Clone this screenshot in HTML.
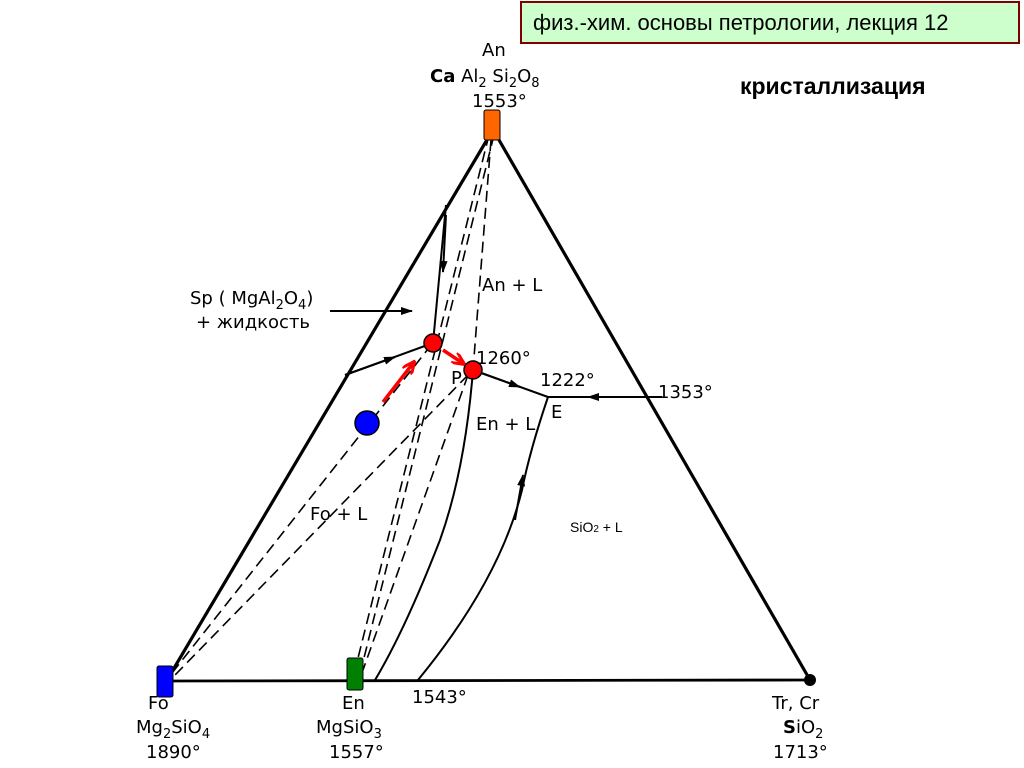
<!DOCTYPE html>
<html><head><meta charset="utf-8"><style>
html,body{margin:0;padding:0;background:#fff;width:1024px;height:768px;overflow:hidden}
svg{display:block}
text{font-family:"DejaVu Sans","Liberation Sans",sans-serif;fill:#000}
</style></head><body>
<svg width="1024" height="768" viewBox="0 0 1024 768" xmlns="http://www.w3.org/2000/svg">
<defs>
<marker id="ab" markerWidth="12" markerHeight="8" refX="11" refY="4" orient="auto" markerUnits="userSpaceOnUse"><path d="M0,0 L12,4 L0,8 Z" fill="#000"/></marker>
<marker id="ar" markerWidth="14" markerHeight="12" refX="12" refY="6" orient="auto" markerUnits="userSpaceOnUse"><path d="M0,0 L13,6 L0,12" fill="none" stroke="#f00" stroke-width="3"/></marker>
</defs>
<rect x="521" y="2" width="498" height="41" fill="#ccffcc" stroke="#800000" stroke-width="2"/>
<text x="533" y="30" font-size="22" style="font-family:'Liberation Sans',sans-serif">физ.-хим. основы петрологии, лекция 12</text>
<text x="740" y="94" font-size="23" font-weight="bold" style="font-family:'Liberation Sans',sans-serif">кристаллизация</text>

<g stroke="#000" stroke-width="3.2" fill="none">
<line x1="491" y1="133" x2="167" y2="680"/>
<line x1="495" y1="133" x2="810" y2="680"/>
<line x1="165" y1="681" x2="810" y2="680" stroke-width="2.8"/>
</g>
<g stroke="#000" stroke-width="1.6" fill="none" stroke-dasharray="11,6">
<line x1="172" y1="673" x2="428" y2="349"/>
<line x1="489" y1="135" x2="355" y2="670"/>
<line x1="494" y1="135" x2="361" y2="670"/>
<line x1="491" y1="140" x2="473" y2="370"/>
<line x1="468" y1="375" x2="175" y2="675"/>
<line x1="468" y1="375" x2="363" y2="670"/>
</g>
<g stroke="#000" stroke-width="2" fill="none">
<line x1="446" y1="205" x2="433" y2="343"/>
<line x1="446" y1="215" x2="443" y2="272" marker-end="url(#ab)"/>
<line x1="345" y1="375" x2="433" y2="343"/>
<line x1="345" y1="375" x2="395" y2="357" marker-end="url(#ab)"/>
<line x1="473" y1="370" x2="548" y2="397"/>
<line x1="473" y1="370" x2="520" y2="387" marker-end="url(#ab)"/>
<line x1="548" y1="397" x2="662" y2="397"/>
<line x1="660" y1="397" x2="588" y2="397" marker-end="url(#ab)"/>
<path d="M473,370 Q465,470 440,540 Q405,630 375,680"/>
<path d="M548,397 Q530,450 522,490 Q500,580 418,680"/>
<line x1="515" y1="520" x2="523" y2="475" marker-end="url(#ab)"/>
<line x1="330" y1="311" x2="412" y2="311" marker-end="url(#ab)"/>
</g>
<line x1="383" y1="402" x2="414" y2="362" stroke="#f00" stroke-width="3.5" marker-end="url(#ar)"/>
<line x1="443" y1="350" x2="464" y2="364" stroke="#f00" stroke-width="3.5" marker-end="url(#ar)"/>
<circle cx="433" cy="343" r="9" fill="#f00" stroke="#000" stroke-width="1.5"/>
<circle cx="473" cy="370" r="9" fill="#f00" stroke="#000" stroke-width="1.5"/>
<circle cx="367" cy="423" r="12" fill="#0000ff" stroke="#000" stroke-width="1.5"/>
<rect x="484" y="110" width="16" height="30" rx="2" fill="#ff6600" stroke="#000" stroke-width="1"/>
<rect x="157" y="666" width="16" height="31" rx="2" fill="#0000ff" stroke="#000" stroke-width="1"/>
<rect x="347" y="658" width="16" height="32" rx="2" fill="#008000" stroke="#000" stroke-width="1"/>
<circle cx="810" cy="680" r="6" fill="#000"/>
<g font-size="18">
<text x="482" y="56">An</text>
<text x="430" y="82"><tspan font-weight="bold">Ca</tspan> Al<tspan font-size="13" dy="5">2</tspan><tspan dy="-5"> Si</tspan><tspan font-size="13" dy="5">2</tspan><tspan dy="-5">O</tspan><tspan font-size="13" dy="5">8</tspan></text>
<text x="472" y="107">1553°</text>
<text x="190" y="304">Sp ( MgAl<tspan font-size="13" dy="5">2</tspan><tspan dy="-5">O</tspan><tspan font-size="13" dy="5">4</tspan><tspan dy="-5">)</tspan></text>
<text x="196" y="328">+ жидкость</text>
<text x="482" y="291">An + L</text>
<text x="476" y="364">1260°</text>
<text x="451" y="384">P</text>
<text x="540" y="386">1222°</text>
<text x="551" y="418">E</text>
<text x="658" y="398">1353°</text>
<text x="476" y="430">En + L</text>
<text x="310" y="520">Fo + L</text>
<text x="148" y="709">Fo</text>
<text x="136" y="733">Mg<tspan font-size="13" dy="5">2</tspan><tspan dy="-5">SiO</tspan><tspan font-size="13" dy="5">4</tspan></text>
<text x="146" y="758">1890°</text>
<text x="342" y="709">En</text>
<text x="316" y="733">MgSiO<tspan font-size="13" dy="5">3</tspan></text>
<text x="329" y="758">1557°</text>
<text x="412" y="703">1543°</text>
<text x="772" y="709">Tr, Cr</text>
<text x="783" y="733"><tspan font-weight="bold">S</tspan>iO<tspan font-size="13" dy="5">2</tspan></text>
<text x="773" y="758">1713°</text>
</g>
<text x="570" y="532" font-size="14" style="font-family:'Liberation Sans',sans-serif">SiO<tspan font-size="10">2</tspan> + L</text>
</svg>
</body></html>
